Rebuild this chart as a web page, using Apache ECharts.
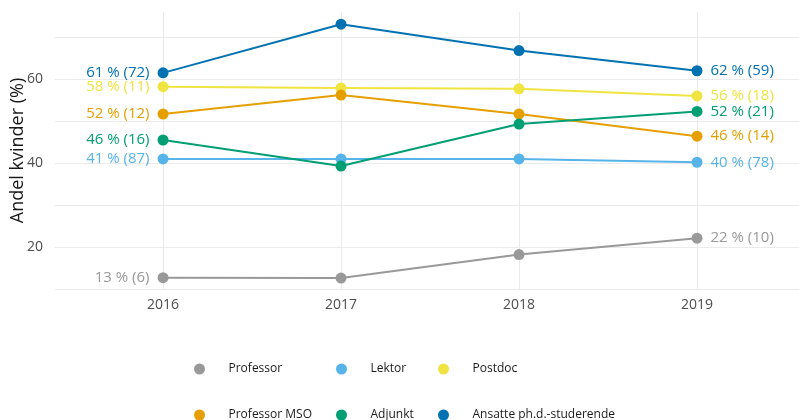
<!DOCTYPE html>
<html>
<head>
<meta charset="utf-8">
<script src="https://cdn.jsdelivr.net/npm/echarts@6/dist/echarts.min.js"></script>
<style>
  html, body { margin: 0; padding: 0; background: #fff; }
  #chart { width: 799px; height: 420px; }
</style>
</head>
<body>
<div id="chart"></div>
<script>
// data
const years = [2016, 2017, 2018, 2019];
const seriesNames = ['Professor', 'Lektor', 'Postdoc', 'Professor MSO', 'Adjunkt', 'Ansatte ph.d.-studerende'];
const colors = ['#999999', '#56B4E9', '#F0E442', '#E69F00', '#009E73', '#0072B2'];

const professor = [12.7, 12.6, 18.2, 22.1];
const lektor = [41.0, 41.0, 41.0, 40.2];
const postdoc = [58.2, 57.9, 57.7, 56.0];
const professorMSO = [51.7, 56.2, 51.7, 46.4];
const adjunkt = [45.5, 39.3, 49.3, 52.3];
const phd = [61.5, 73.1, 66.8, 62.0];

const startLabels = ['13 % (6)', '41 % (87)', '58 % (11)', '52 % (12)', '46 % (16)', '61 % (72)'];
const endLabels = ['22 % (10)', '40 % (78)', '56 % (18)', '46 % (14)', '52 % (21)', '62 % (59)'];

const yTicks = [10, 20, 30, 40, 50, 60, 70];
const yLabels = [20, 40, 60];

const values = [professor, lektor, postdoc, professorMSO, adjunkt, phd];

// legend grid: 3 columns x 2 rows
const legendLefts = [194, 336, 438, 194, 336, 438];
const legendTops = [361, 361, 361, 407, 407, 407];

const chart = echarts.init(document.getElementById('chart'));

const fontFamily = 'Open Sans';

function buildSeries(idx) {
  const vals = values[idx];
  const last = vals.length - 1;
  return {
    name: seriesNames[idx],
    type: 'line',
    symbol: 'circle',
    symbolSize: 11,
    color: colors[idx],
    lineStyle: { width: 2 },
    z: 2 + idx,
    data: vals.map((v, i) => ({
      value: [years[i], v],
      label: {
        show: i === 0 || i === last,
        position: i === 0 ? 'left' : 'right',
        distance: 8,
        formatter: i === 0 ? startLabels[idx] : endLabels[idx],
        color: colors[idx],
        fontSize: 15,
        fontFamily: fontFamily
      }
    }))
  };
}

function buildLegend(idx) {
  return {
    orient: 'horizontal',
    left: legendLefts[idx],
    top: legendTops[idx],
    padding: 0,
    itemWidth: 48,
    itemHeight: 11,
    icon: 'circle',
    data: [seriesNames[idx]],
    textStyle: { fontSize: 12, color: '#1a1a1a', fontFamily: fontFamily, lineHeight: 16 }
  };
}

const option = {
  backgroundColor: '#fff',
  animation: false,
  grid: { left: 55, right: 0, top: 12, bottom: 131, outerBoundsMode: 'none' },
  legend: seriesNames.map((n, i) => buildLegend(i)),
  xAxis: {
    type: 'value',
    min: 2015.393,
    max: 2019.573,
    axisLine: { show: false },
    axisTick: { show: false, customValues: years },
    axisLabel: {
      customValues: years,
      color: '#4d4d4d',
      fontSize: 14,
      fontFamily: fontFamily,
      margin: 9,
      formatter: v => String(v)
    },
    splitLine: { show: true, lineStyle: { color: '#ebebeb', width: 1 } }
  },
  yAxis: {
    type: 'value',
    min: 10,
    max: 76,
    name: 'Andel kvinder (%)',
    nameLocation: 'middle',
    nameGap: 28,
    nameMoveOverlap: false,
    nameTextStyle: { fontSize: 18, color: '#1a1a1a', fontFamily: fontFamily },
    axisLine: { show: false },
    axisTick: { show: false, customValues: yTicks },
    axisLabel: {
      customValues: yLabels,
      color: '#4d4d4d',
      fontSize: 14,
      fontFamily: fontFamily,
      margin: 12
    },
    splitLine: { show: true, lineStyle: { color: '#ebebeb', width: 1 } }
  },
  series: seriesNames.map((n, i) => buildSeries(i))
};

chart.setOption(option);
</script>
</body>
</html>
